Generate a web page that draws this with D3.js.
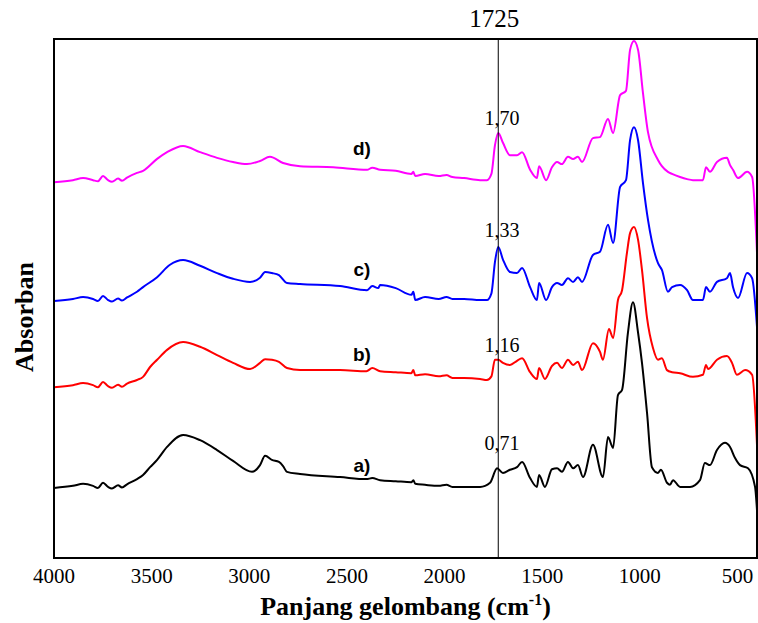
<html>

<head>
    <script src="https://d3js.org/d3.v7.min.js"></script>
</head>

<body style="margin:0">
    <svg id="ftir" height="623" width="758"></svg>
    <script>

        // wavenumber (cm-1) and absorbance (arbitrary, stacked)
        const spectrumA = [[4000,0.135],[3903,0.139],[3851,0.143],[3800,0.139],[3775,0.135],[3749,0.145],[3723,0.137],[3703,0.134],[3672,0.140],[3652,0.136],[3626,0.142],[3575,0.152],[3544,0.160],[3508,0.175],[3472,0.189],[3421,0.214],[3339,0.237],[3252,0.227],[3165,0.208],[3083,0.187],[2986,0.166],[2945,0.179],[2919,0.197],[2884,0.189],[2848,0.185],[2827,0.177],[2807,0.166],[2740,0.162],[2535,0.156],[2400,0.152],[2370,0.154],[2330,0.150],[2250,0.148],[2170,0.146],[2160,0.150],[2150,0.143],[2100,0.141],[2030,0.139],[1990,0.141],[1960,0.137],[1900,0.137],[1818,0.137],[1767,0.145],[1731,0.173],[1701,0.164],[1665,0.170],[1629,0.175],[1603,0.185],[1562,0.154],[1527,0.137],[1516,0.160],[1486,0.137],[1450,0.171],[1424,0.173],[1399,0.166],[1368,0.185],[1342,0.173],[1317,0.179],[1291,0.156],[1240,0.218],[1189,0.156],[1163,0.233],[1137,0.212],[1112,0.314],[1091,0.324],[1061,0.434],[1035,0.493],[1009,0.434],[989,0.376],[963,0.279],[938,0.175],[907,0.164],[892,0.170],[861,0.145],[846,0.141],[830,0.150],[794,0.137],[743,0.137],[692,0.150],[667,0.183],[641,0.179],[605,0.208],[564,0.222],[538,0.214],[513,0.193],[487,0.179],[446,0.173],[410,0.137],[400,0.092]]

        const spectrumB = [[4000,0.329],[3903,0.333],[3851,0.337],[3800,0.333],[3775,0.329],[3749,0.339],[3723,0.331],[3703,0.328],[3672,0.334],[3652,0.330],[3626,0.336],[3575,0.343],[3544,0.349],[3508,0.368],[3472,0.382],[3421,0.401],[3339,0.416],[3252,0.407],[3165,0.391],[3083,0.376],[2996,0.364],[2945,0.376],[2919,0.383],[2884,0.382],[2848,0.378],[2807,0.366],[2740,0.362],[2535,0.362],[2400,0.360],[2370,0.366],[2330,0.360],[2250,0.358],[2170,0.356],[2160,0.362],[2150,0.352],[2100,0.354],[2030,0.350],[1990,0.352],[1960,0.347],[1900,0.347],[1818,0.345],[1783,0.343],[1760,0.350],[1742,0.382],[1725,0.382],[1701,0.376],[1665,0.372],[1629,0.380],[1603,0.385],[1562,0.358],[1527,0.345],[1516,0.366],[1486,0.345],[1450,0.370],[1424,0.376],[1399,0.366],[1368,0.382],[1342,0.372],[1317,0.378],[1296,0.362],[1240,0.414],[1204,0.397],[1189,0.382],[1158,0.441],[1137,0.424],[1112,0.497],[1091,0.516],[1066,0.588],[1050,0.626],[1030,0.638],[1009,0.613],[989,0.555],[963,0.462],[933,0.405],[907,0.382],[887,0.385],[861,0.362],[835,0.358],[794,0.356],[728,0.349],[677,0.353],[661,0.372],[651,0.364],[605,0.382],[554,0.389],[528,0.376],[503,0.353],[461,0.362],[425,0.353],[400,0.218]]

        const spectrumC = [[4000,0.495],[3903,0.499],[3851,0.503],[3800,0.499],[3775,0.495],[3749,0.505],[3723,0.497],[3703,0.494],[3672,0.500],[3652,0.496],[3626,0.502],[3575,0.513],[3544,0.522],[3472,0.541],[3406,0.565],[3339,0.574],[3252,0.563],[3165,0.549],[3083,0.538],[2996,0.532],[2945,0.540],[2919,0.551],[2884,0.549],[2848,0.545],[2807,0.530],[2740,0.528],[2535,0.524],[2397,0.516],[2370,0.524],[2340,0.520],[2330,0.526],[2250,0.520],[2170,0.507],[2160,0.513],[2150,0.497],[2100,0.503],[2030,0.499],[1990,0.503],[1960,0.499],[1900,0.499],[1818,0.497],[1783,0.497],[1760,0.510],[1742,0.570],[1725,0.599],[1701,0.575],[1665,0.551],[1629,0.549],[1603,0.559],[1562,0.522],[1527,0.497],[1516,0.530],[1480,0.497],[1450,0.522],[1424,0.530],[1399,0.526],[1368,0.539],[1342,0.532],[1317,0.541],[1296,0.532],[1240,0.584],[1204,0.590],[1163,0.642],[1137,0.607],[1101,0.715],[1071,0.728],[1050,0.805],[1030,0.830],[1009,0.805],[984,0.723],[958,0.651],[907,0.568],[887,0.555],[856,0.513],[835,0.522],[794,0.526],[758,0.516],[728,0.497],[677,0.497],[661,0.522],[641,0.513],[605,0.532],[554,0.539],[538,0.549],[523,0.522],[497,0.501],[451,0.549],[425,0.539],[400,0.445]]

        const spectrumD = [[4000,0.724],[3903,0.728],[3851,0.732],[3800,0.728],[3775,0.726],[3749,0.736],[3723,0.728],[3703,0.725],[3672,0.731],[3652,0.727],[3626,0.733],[3575,0.742],[3544,0.746],[3472,0.769],[3421,0.782],[3339,0.794],[3252,0.782],[3165,0.771],[3083,0.763],[3012,0.759],[2945,0.765],[2894,0.773],[2827,0.761],[2740,0.755],[2570,0.753],[2397,0.748],[2370,0.752],[2330,0.748],[2250,0.746],[2170,0.740],[2160,0.744],[2150,0.736],[2100,0.740],[2030,0.736],[1990,0.738],[1960,0.734],[1900,0.732],[1818,0.728],[1783,0.728],[1760,0.740],[1742,0.795],[1725,0.819],[1701,0.800],[1665,0.776],[1629,0.776],[1603,0.782],[1562,0.748],[1527,0.732],[1516,0.755],[1480,0.728],[1450,0.753],[1424,0.763],[1399,0.759],[1368,0.773],[1342,0.769],[1317,0.773],[1296,0.763],[1240,0.809],[1204,0.811],[1163,0.846],[1137,0.819],[1101,0.892],[1071,0.900],[1050,0.979],[1030,0.996],[1009,0.979],[984,0.896],[958,0.820],[907,0.767],[887,0.755],[856,0.744],[835,0.740],[794,0.734],[758,0.730],[728,0.728],[677,0.728],[661,0.753],[641,0.744],[605,0.763],[554,0.771],[538,0.757],[523,0.748],[497,0.732],[451,0.744],[425,0.734],[400,0.588]]

        const seriesNames = ["a)", "b)", "c)", "d)"]
        const seriesColors = ["black", "#ff0000", "#0000ff", "#ff00ff"]
        const peakLabels = ["0,71", "1,16", "1,33", "1,70"]
        const xTicks = [4000, 3500, 3000, 2500, 2000, 1500, 1000, 500]
        const markerWn = 1725

        const svg = d3.select("#ftir")
        const mLeft = 54, mRight = 757, mTop = 39, mBottom = 558
        const serif = "'Liberation Serif', 'Times New Roman', serif"
        const sans = "'Liberation Sans', Arial, sans-serif"

        const x = d3.scaleLinear().domain([4000, 400]).range([mLeft, mRight])
        const y = d3.scaleLinear().domain([0, 1]).range([mBottom, mTop])

        const line = d3.line()
            .x(d => x(d[0]))
            .y(d => y(d[1]))
            .curve(d3.curveMonotoneX)

        const spectra = [spectrumA, spectrumB, spectrumC, spectrumD]

        svg.selectAll("path.spec").data(spectra)
            .join("path")
            .attr("class", "spec")
            .attr("d", line)
            .style("fill", "none")
            .style("stroke", (d, i) => seriesColors[i])
            .style("stroke-width", 2)
            .style("stroke-linejoin", "round")

        // 1725 marker line
        svg.append("line")
            .attr("x1", x(markerWn)).attr("x2", x(markerWn))
            .attr("y1", mTop).attr("y2", mBottom)
            .style("stroke", "black")
            .style("stroke-width", 1)

        svg.append("text")
            .attr("x", x(markerWn) - 4)
            .attr("y", 27)
            .attr("text-anchor", "middle")
            .style("font-family", serif)
            .style("font-size", "25px")
            .text(markerWn)

        // frame
        svg.append("rect")
            .attr("x", mLeft).attr("y", mTop)
            .attr("width", mRight - mLeft).attr("height", mBottom - mTop)
            .style("fill", "none")
            .style("stroke", "black")
            .style("stroke-width", 2)

        // tick labels (no tick marks in the original)
        svg.selectAll("text.tick").data(xTicks)
            .join("text")
            .attr("class", "tick")
            .attr("x", d => x(d))
            .attr("y", 583)
            .attr("text-anchor", "middle")
            .style("font-family", serif)
            .style("font-size", "21px")
            .text(d => d)

        // series labels a) - d)
        const nameY = [0.166, 0.380, 0.543, 0.777]
        svg.selectAll("text.name").data(seriesNames)
            .join("text")
            .attr("class", "name")
            .attr("x", x(2423))
            .attr("y", (d, i) => y(nameY[i]))
            .attr("text-anchor", "middle")
            .style("font-family", sans)
            .style("font-weight", "bold")
            .style("font-size", "19px")
            .text(d => d)

        // peak values at 1725
        const peakY = [0.208, 0.397, 0.618, 0.834]
        svg.selectAll("text.peak").data(peakLabels)
            .join("text")
            .attr("class", "peak")
            .attr("x", x(1706))
            .attr("y", (d, i) => y(peakY[i]))
            .attr("text-anchor", "middle")
            .style("font-family", serif)
            .style("font-size", "20px")
            .text(d => d)

        // axis titles
        const xt = svg.append("text")
            .attr("x", (mLeft + mRight) / 2)
            .attr("y", 615)
            .attr("text-anchor", "middle")
            .style("font-family", serif)
            .style("font-weight", "bold")
            .style("font-size", "26px")
        xt.append("tspan").text("Panjang gelombang (cm")
        xt.append("tspan").attr("dy", -10).style("font-size", "16px").text("-1")
        xt.append("tspan").attr("dy", 10).text(")")

        svg.append("text")
            .attr("transform", "translate(33,317) rotate(-90)")
            .attr("text-anchor", "middle")
            .style("font-family", serif)
            .style("font-weight", "bold")
            .style("font-size", "26px")
            .text("Absorban")

    </script>
</body>

</html>
